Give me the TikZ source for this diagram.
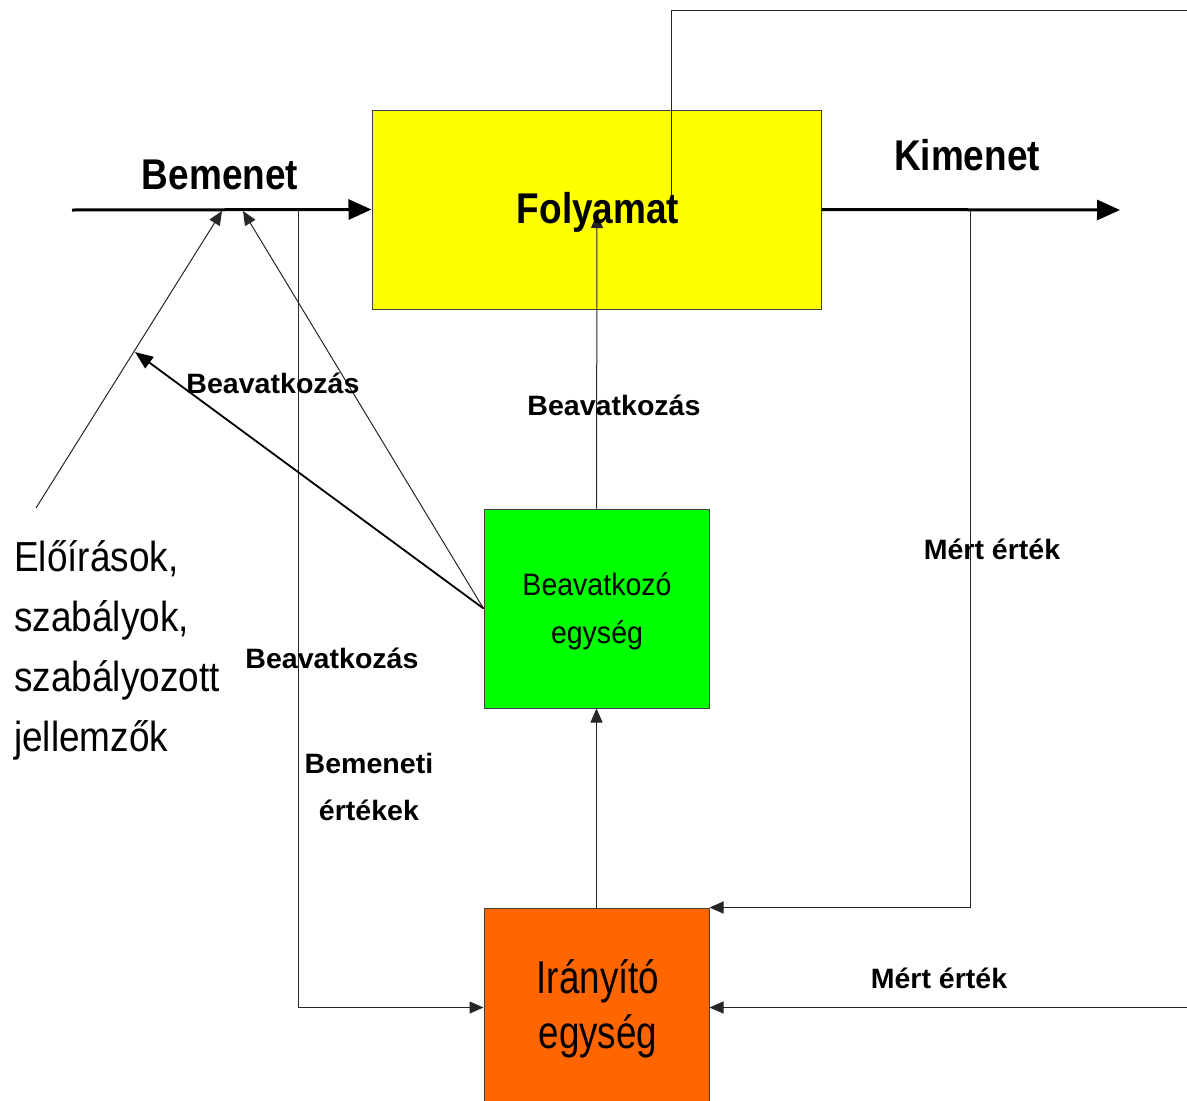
\documentclass[tikz,border=0pt]{standalone}
\usepackage{fontspec}
\setmainfont{Liberation Sans}
\newfontfamily\headfont{Liberation Sans}[FakeStretch=0.86]
\newfontfamily\lblfont{Liberation Sans}[FakeStretch=1.02]
\newfontfamily\unitfont{Liberation Sans}[FakeStretch=0.92]
\newfontfamily\ctrlfont{Liberation Sans}[FakeStretch=0.8]
\newfontfamily\notefont{Liberation Sans}[FakeStretch=0.88]
\usetikzlibrary{arrows.meta}

\definecolor{procyellow}{HTML}{FFFF00}
\definecolor{actgreen}{HTML}{00FF00}
\definecolor{ctrlorange}{HTML}{FF6600}
\definecolor{edgegray}{HTML}{404040}

\tikzset{
  blockbox/.style={draw=edgegray, line width=1pt, inner sep=0pt,
    minimum width=225pt, minimum height=199pt},
  mainflow/.style={line width=3pt, -{Triangle[length=23pt,width=20pt]}},
  sigline/.style={line width=1pt, draw=black!85},
  sigarrow/.style={sigline, -{Triangle[length=14pt,width=12pt]}},
  heavyarrow/.style={line width=1.8pt, -{Triangle[length=18pt,width=14pt]}},
  headtxt/.style={anchor=base, inner sep=0pt, font=\headfont\bfseries\fontsize{43}{50}\selectfont},
  lbltxt/.style={anchor=base, inner sep=0pt, font=\lblfont\bfseries\fontsize{28}{33}\selectfont},
  unittxt/.style={anchor=base, inner sep=0pt, font=\unitfont\fontsize{31}{37}\selectfont},
  ctrltxt/.style={anchor=base, inner sep=0pt, font=\ctrlfont\fontsize{46}{55}\selectfont},
  notetxt/.style={anchor=base west, inner sep=0pt, font=\notefont\fontsize{42}{50}\selectfont},
}

\begin{document}
\begin{tikzpicture}[x=1pt, y=-1pt]
\useasboundingbox (0,0) rectangle (1187,1101);
\clip (0,0) rectangle (1187,1101);

% blocks
\node[blockbox, fill=procyellow, minimum width=449pt] (folyamat) at (596.5,209.5) {};
\node[blockbox, fill=actgreen] (beav) at (596.5,608.5) {};
\node[blockbox, fill=ctrlorange] (iranyito) at (596.5,1007.5) {};

% free ends of the connectors
\coordinate (inStart) at (72,210);
\coordinate (outEnd) at (1120,210);
\coordinate (inTapA) at (222,211);
\coordinate (inTapB) at (243,211);
\coordinate (inBranch) at (298,210);
\coordinate (outBranch) at (970,210);
\coordinate (fbTop) at (671,195);
\coordinate (fbCorner) at (671,10);
\coordinate (fbRight) at (1187,10);
\coordinate (measRight) at (1187,1007.5);
\coordinate (rulesStart) at (36,508);
\coordinate (rulesMid) at (135,352);
\coordinate (actTip) at (597,214);

% main flow
\draw[mainflow] (inStart) -- (folyamat.west);
\draw[mainflow] (folyamat.east) -- (outEnd);

% feedback line leaving the process at the top
\draw[sigline] (fbTop) -- (fbCorner) -- (fbRight);

% control loop
\draw[sigarrow] (beav.north) -- (actTip);
\draw[sigarrow] (iranyito.north) -- (beav.south);
\draw[sigarrow] (outBranch) |- (iranyito.north east);
\draw[sigarrow] (measRight) -- (iranyito.east);
\draw[sigarrow] (inBranch) |- (iranyito.west);

% interventions on the input side
\draw[sigarrow] (rulesStart) -- (inTapA);
\draw[sigarrow] (beav.west) -- (inTapB);
\draw[heavyarrow] (beav.west) -- (rulesMid);

% texts
\node[headtxt] (tBemenet) at (220,189) {Bemenet};
\node[headtxt] (tKimenet) at (967,170) {Kimenet};
\node[headtxt] (tFolyamat) at (598,223) {Folyamat};

\node[lbltxt] (tBeavA) at (273,393) {Beavatkozás};
\node[lbltxt] (tBeavB) at (614,415) {Beavatkozás};
\node[lbltxt] (tBeavC) at (332,668) {Beavatkozás};
\node[lbltxt] (tMertA) at (992,559) {Mért érték};
\node[lbltxt] (tMertB) at (939,988) {Mért érték};
\node[lbltxt] (tBemenetiA) at (369,773) {Bemeneti};
\node[lbltxt] (tBemenetiB) at (369,820) {értékek};

\node[unittxt] (tBeavUnitA) at (597,595) {Beavatkozó};
\node[unittxt] (tBeavUnitB) at (597,643) {egység};

\node[ctrltxt] (tIrUnitA) at (598,993) {Irányító};
\node[ctrltxt] (tIrUnitB) at (598,1048) {egység};

\node[notetxt] (tNoteA) at (14,571) {Előírások,};
\node[notetxt] (tNoteB) at (14,631) {szabályok,};
\node[notetxt] (tNoteC) at (14,691) {szabályozott};
\node[notetxt] (tNoteD) at (14,751) {jellemzők};
\end{tikzpicture}
\end{document}
